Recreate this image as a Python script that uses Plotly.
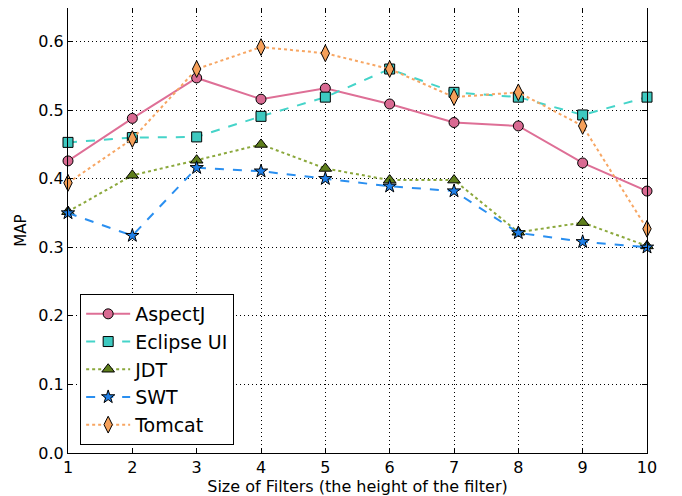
import plotly.graph_objects as go

x = [1, 2, 3, 4, 5, 6, 7, 8, 9, 10]
aspectj = [0.426, 0.488, 0.547, 0.516, 0.532, 0.509, 0.482, 0.477, 0.423, 0.382]
eclipse_ui = [0.453, 0.460, 0.461, 0.491, 0.519, 0.560, 0.526, 0.519, 0.493, 0.519]
jdt = [0.352, 0.405, 0.427, 0.450, 0.415, 0.398, 0.398, 0.322, 0.336, 0.302]
swt = [0.350, 0.317, 0.416, 0.411, 0.400, 0.389, 0.382, 0.321, 0.308, 0.300]
tomcat = [0.394, 0.458, 0.560, 0.592, 0.583, 0.560, 0.519, 0.526, 0.477, 0.327]
y_ticks = [0.0, 0.1, 0.2, 0.3, 0.4, 0.5, 0.6]

series = [
    ("AspectJ", aspectj, "#de6f96", "#d96a92", "circle", "solid", 10),
    ("Eclipse UI", eclipse_ui, "#45d4c9", "#3dc9c0", "square", "dash", 10),
    ("JDT", jdt, "#8ba83c", "#5f7f1c", "triangle-up", "dot", 11),
    ("SWT", swt, "#2a8ff0", "#2080e8", "star", "dash", 10),
    ("Tomcat", tomcat, "#f7a663", "#f5a05a", "diamond-tall", "dot", 12),
]

fig = go.Figure()
for name, vals, lc, mc, sym, dash, ms in series:
    fig.add_trace(go.Scatter(
        x=x, y=vals, name=name, mode="lines+markers",
        line=dict(color=lc, width=2, dash=dash),
        marker=dict(symbol=sym, size=ms, color=mc, line=dict(color="black", width=1)),
        cliponaxis=False,
    ))

axis_common = dict(
    showline=True, linecolor="black", linewidth=1, mirror="ticks",
    ticks="inside", ticklen=5, tickcolor="black",
    showgrid=True, gridcolor="black", griddash="1px,3px", gridwidth=1,
    zeroline=False, tickfont=dict(size=16, color="black"), automargin=False,
)
fig.update_xaxes(range=[1, 10], tickvals=x, ticktext=[str(v) for v in x],
                 title=dict(text="Size of Filters (the height of the filter)", font=dict(size=16, color="black"), standoff=4),
                 **axis_common)
fig.update_yaxes(range=[0, 0.649], tickvals=y_ticks, ticktext=[f"{v:.1f}" for v in y_ticks],
                 title=dict(text="MAP", font=dict(size=15, color="black"), standoff=8),
                 **axis_common)

fig.update_layout(
    width=674, height=488,
    margin=dict(l=60, r=35, t=0, b=43),
    plot_bgcolor="white", paper_bgcolor="white",
    font=dict(family="DejaVu Sans", color="black"),
    legend=dict(x=0.021, y=0.018, xanchor="left", yanchor="bottom",
                bgcolor="white", bordercolor="black", borderwidth=1,
                font=dict(size=19, color="black"), itemwidth=44, tracegroupgap=0),
)
fig.write_html("out.html")
